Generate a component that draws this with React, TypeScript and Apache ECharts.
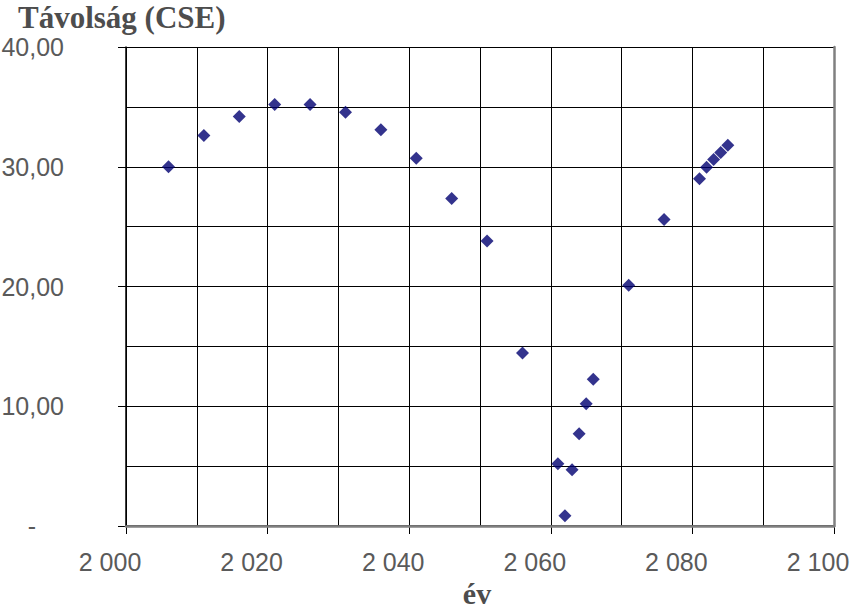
import React, { useEffect, useRef } from "react";
import * as echarts from "echarts";

const years = [2006, 2011, 2016, 2021, 2026, 2031, 2036, 2041, 2046, 2051, 2056, 2061, 2062, 2063, 2064, 2065, 2066, 2071, 2076, 2081, 2082, 2083, 2084, 2085];
const distances = [30.0, 32.6, 34.2, 35.2, 35.2, 34.55, 33.1, 30.7, 27.35, 23.8, 14.45, 5.2, 0.85, 4.7, 7.7, 10.2, 12.25, 20.1, 25.6, 29.0, 29.95, 30.6, 31.2, 31.8];

const titleText = "Távolság (CSE)";
const xName = "év";

const fmtX = (v: number) => {
  const s = String(Math.round(v));
  return s.slice(0, s.length - 3) + "\u00a0" + s.slice(-3);
};
const fmtY = (v: number) => (v === 0 ? "{d|-}" : v.toFixed(2).replace(".", ","));

export default function App() {
  const ref = useRef<HTMLDivElement>(null);
  useEffect(() => {
    if (!ref.current) return;
    const chart = echarts.init(ref.current, null, { renderer: "svg" });
    const labelFont = { color: "#5a5a5a", fontSize: 25, fontFamily: "Arial, 'Liberation Sans', sans-serif" };
    const serif = "'Times New Roman', 'Liberation Serif', serif";
    chart.setOption({
      animation: false,
      backgroundColor: "#ffffff",
      title: {
        text: titleText,
        left: 13,
        top: -3,
        textStyle: { fontFamily: serif, fontWeight: "bold", fontSize: 31, color: "#4d4d4d" },
      },
      grid: { left: 126, top: 47, right: 16, bottom: 83, containLabel: false, outerBoundsMode: "none" },
      xAxis: [
        {
          type: "value",
          min: 2000,
          max: 2100,
          interval: 20,
          name: xName,
          nameLocation: "middle",
          nameGap: 46,
          nameTextStyle: { fontFamily: serif, fontWeight: "bold", fontSize: 30, lineHeight: 30, color: "#4d4d4d", padding: [0, 6, 0, 0] },
          axisLine: { show: true, onZero: false, lineStyle: { color: "#000", width: 1.5 } },
          axisTick: { show: true, length: 8, inside: false, lineStyle: { color: "#000", width: 1 } },
          axisLabel: { ...labelFont, margin: 23, padding: [0, 32, 0, 0], formatter: fmtX },
          splitLine: { show: true, lineStyle: { color: "#000", width: 1 } },
          minorTick: { show: false, splitNumber: 2 },
          minorSplitLine: { show: true, lineStyle: { color: "#000", width: 1 } },
          z: 3,
        },
        {
          type: "value",
          position: "top",
          min: 2000,
          max: 2100,
          interval: 20,
          axisLine: { show: true, lineStyle: { color: "#808080", width: 2.5 } },
          axisTick: { show: false },
          axisLabel: { show: false },
          splitLine: { show: false },
          z: 4,
        },
      ],
      yAxis: [
        {
          type: "value",
          min: 0,
          max: 40,
          interval: 10,
          axisLine: { show: true, onZero: false, lineStyle: { color: "#000", width: 1.5 } },
          axisTick: { show: true, length: 8, inside: false, lineStyle: { color: "#000", width: 1 } },
          axisLabel: {
            ...labelFont,
            margin: 62,
            formatter: fmtY,
            rich: { d: { ...labelFont, padding: [0, 28, 0, 0] } },
          },
          splitLine: { show: true, lineStyle: { color: "#000", width: 1 } },
          minorTick: { show: false, splitNumber: 2 },
          minorSplitLine: { show: true, lineStyle: { color: "#000", width: 1 } },
          z: 3,
        },
        {
          type: "value",
          position: "right",
          min: 0,
          max: 40,
          interval: 10,
          axisLine: { show: true, lineStyle: { color: "#808080", width: 2.5 } },
          axisTick: { show: false },
          axisLabel: { show: false },
          splitLine: { show: false },
          z: 4,
        },
      ],
      series: [
        {
          type: "scatter",
          data: years.map((y, i) => [y, distances[i]]),
          symbol: "diamond",
          symbolSize: 13,
          itemStyle: { color: "#000070" },
          z: 10,
        },
      ],
    });
    return () => chart.dispose();
  }, []);
  return <div ref={ref} style={{ position: "absolute", left: 0, top: 0, width: 850, height: 609 }} />;
}
